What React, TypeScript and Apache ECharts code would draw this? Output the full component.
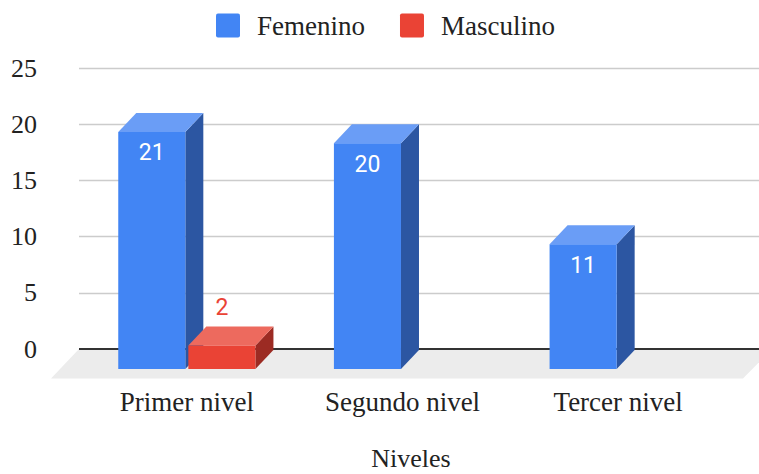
import React, { useEffect, useRef } from "react";
import * as echarts from "echarts";

const categories = ["Primer nivel", "Segundo nivel", "Tercer nivel"];
const femenino: (number | null)[] = [21, 20, 11];
const masculino: (number | null)[] = [2, null, null];
const seriesNames = ["Femenino", "Masculino"];
const yTicks = [0, 5, 10, 15, 20, 25];
const axisTitle = "Niveles";

const palette = [
  { front: "#4285f4", top: "#6a9df6", side: "#2c56a2" },
  { front: "#ea4335", top: "#ed6a5e", side: "#9c2b23" },
];

const SERIF = "'Liberation Serif', 'Times New Roman', serif";
const SANS = "Roboto, 'Noto Sans', sans-serif";
const DX = 18;
const DY = 19;

function makeBarRenderer(sIdx: number) {
  const c = palette[sIdx];
  return (params: any, api: any) => {
    const idx = api.value(0);
    const val = api.value(1);
    const [cx, yTop] = api.coord([idx, val]);
    const y0 = api.coord([idx, 0])[1];
    const band = api.size([1, 0])[0];
    const w = band * 0.311;
    const gap = band * 0.014;
    const left = sIdx === 0 ? cx - gap / 2 - w : cx + gap / 2;
    const right = left + w;
    const fTop = yTop + DY;
    const fBot = y0 + DY + 1;
    const inside = fBot - fTop > 45;
    const children: any[] = [
      {
        type: "polygon",
        shape: { points: [[right, fTop], [right + DX, fTop - DY], [right + DX, fBot - DY], [right, fBot]] },
        style: { fill: c.side },
      },
      {
        type: "polygon",
        shape: { points: [[left, fTop], [left + DX, fTop - DY], [right + DX, fTop - DY], [right, fTop]] },
        style: { fill: c.top },
      },
      {
        type: "rect",
        shape: { x: left, y: fTop, width: w, height: fBot - fTop },
        style: { fill: c.front },
      },
      {
        type: "text",
        style: {
          text: String(val),
          x: (left + right) / 2,
          y: inside ? fTop + 21 : yTop - 19,
          fill: inside ? "#ffffff" : c.front,
          fontSize: 23,
          fontFamily: SANS,
          align: "center",
          verticalAlign: "middle",
        },
      },
    ];
    return { type: "group", children };
  };
}

function floorRenderer(params: any, api: any) {
  const cs = params.coordSys;
  const y0 = api.coord([0, 0])[1];
  const depth = 29.5;
  return {
    type: "group",
    children: [
      {
        type: "polygon",
        shape: {
          points: [
            [cs.x - 28, y0 + depth],
            [cs.x, y0],
            [cs.x + cs.width + 46, y0],
            [cs.x + cs.width + 17, y0 + depth],
          ],
        },
        style: { fill: "#ececec" },
      },
      {
        type: "line",
        shape: { x1: cs.x, y1: y0, x2: api.getWidth(), y2: y0 },
        style: { stroke: "#333333", lineWidth: 2 },
      },
    ],
  };
}

function toData(values: (number | null)[]) {
  const out: number[][] = [];
  values.forEach((v, i) => {
    if (v !== null) out.push([i, v]);
  });
  return out;
}

export default function App() {
  const ref = useRef<HTMLDivElement>(null);
  useEffect(() => {
    document.body.style.margin = "0";
    if (!ref.current) return;
    const chart = echarts.init(ref.current, undefined, { renderer: "svg" });
    const yMin = yTicks[0];
    const yMax = yTicks[yTicks.length - 1];
    const yStep = yTicks[1] - yTicks[0];
    chart.setOption({
      animation: false,
      backgroundColor: "#ffffff",
      legend: {
        data: seriesNames,
        left: 211,
        top: 7,
        icon: "path://M2,0 L22,0 Q24,0 24,2 L24,22 Q24,24 22,24 L2,24 Q0,24 0,22 L0,2 Q0,0 2,0 Z",
        itemWidth: 24,
        itemHeight: 24,
        itemGap: 35,
        textStyle: { fontSize: 27, fontFamily: SERIF, color: "#222222", padding: [0, 0, 0, 12] },
      },
      grid: [
        { left: 79, right: 0, top: 68, bottom: 125, outerBoundsMode: "none", containLabel: false },
        { left: 79, right: 33, top: 68, bottom: 125, outerBoundsMode: "none", containLabel: false },
      ],
      xAxis: [
        { gridIndex: 0, type: "value", show: false, min: 0, max: 1 },
        {
          gridIndex: 1,
          type: "category",
          data: categories,
          axisLine: { show: false },
          axisTick: { show: false },
          splitLine: { show: false },
          axisLabel: { margin: 39, fontSize: 27, fontFamily: SERIF, color: "#222222" },
          name: axisTitle,
          nameLocation: "middle",
          nameGap: 96,
          nameTextStyle: {
            fontSize: 26,
            fontFamily: SERIF,
            color: "#222222",
            padding: [0, 0, 0, 17],
          },
        },
      ],
      yAxis: [
        {
          gridIndex: 0,
          type: "value",
          min: yMin,
          max: yMax,
          interval: yStep,
          axisLine: { show: false },
          axisTick: { show: false },
          axisLabel: { margin: 42, fontSize: 26, fontFamily: SERIF, color: "#222222" },
          splitLine: { lineStyle: { color: "#cccccc", width: 1.3 } },
        },
        { gridIndex: 1, type: "value", min: yMin, max: yMax, interval: yStep, show: false },
      ],
      series: [
        {
          type: "custom",
          name: "floor",
          xAxisIndex: 1,
          yAxisIndex: 1,
          z: 1,
          silent: true,
          renderItem: floorRenderer,
          data: [[0, 0]],
        },
        {
          type: "custom",
          name: seriesNames[0],
          xAxisIndex: 1,
          yAxisIndex: 1,
          z: 2,
          itemStyle: { color: palette[0].front },
          renderItem: makeBarRenderer(0),
          data: toData(femenino),
        },
        {
          type: "custom",
          name: seriesNames[1],
          xAxisIndex: 1,
          yAxisIndex: 1,
          z: 3,
          itemStyle: { color: palette[1].front },
          renderItem: makeBarRenderer(1),
          data: toData(masculino),
        },
      ],
    });
    return () => chart.dispose();
  }, []);
  return <div ref={ref} style={{ width: 759, height: 474 }} />;
}
